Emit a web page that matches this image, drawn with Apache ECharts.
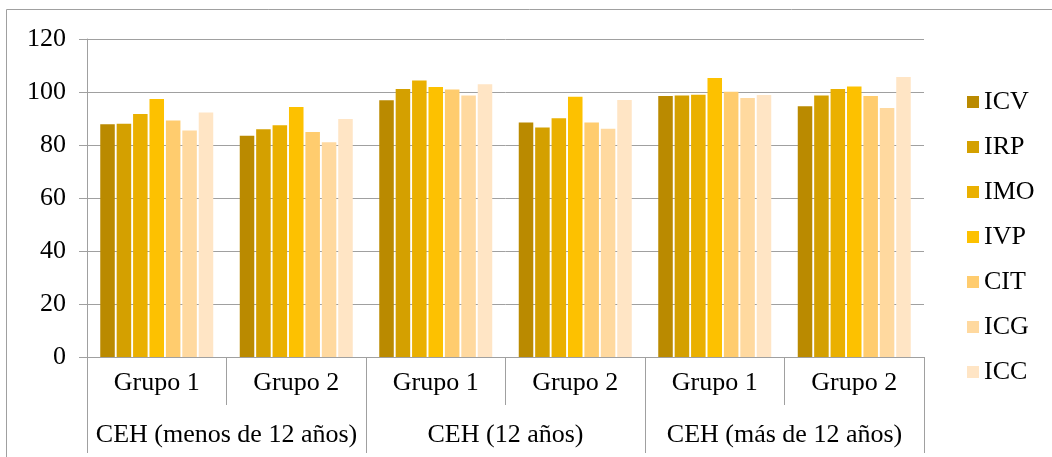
<!DOCTYPE html>
<html>
<head>
<meta charset="utf-8">
<script src="https://cdn.jsdelivr.net/npm/echarts@6/dist/echarts.min.js"></script>
<style>
html,body{margin:0;padding:0;background:#fff;}
#chart{width:1052px;height:457px;}
</style>
</head>
<body>
<div id="chart"></div>
<script>
// Categories
const groupLabels = ['Grupo 1', 'Grupo 2', 'Grupo 1', 'Grupo 2', 'Grupo 1', 'Grupo 2'];
const ageLabels = ['CEH (menos de 12 años)', 'CEH (12 años)', 'CEH (más de 12 años)'];
const yTicks = [0, 20, 40, 60, 80, 100, 120];

// Series values (one value per group column)
const ICV = [87.8, 83.5, 96.9, 88.5, 98.5, 94.6];
const IRP = [88.0, 85.9, 101.1, 86.6, 98.7, 98.7];
const IMO = [91.7, 87.5, 104.3, 90.1, 99.0, 101.1];
const IVP = [97.4, 94.3, 101.9, 98.2, 105.3, 102.1];
const CIT = [89.2, 84.9, 100.9, 88.5, 100.1, 98.5];
const ICG = [85.5, 81.0, 98.7, 86.1, 97.7, 94.0];
const ICC = [92.3, 89.8, 102.9, 97.0, 98.9, 105.7];

const seriesNames = ['ICV', 'IRP', 'IMO', 'IVP', 'CIT', 'ICG', 'ICC'];
const seriesData = [ICV, IRP, IMO, IVP, CIT, ICG, ICC];
const seriesColors = ['#BA8A00', '#D4A000', '#EAB000', '#FDC100', '#FFCC6E', '#FFD99F', '#FFE5C5'];

const FONT = 'Liberation Serif, Times New Roman, serif';
const GREY = '#A0A0A0';

const chart = echarts.init(document.getElementById('chart'));
chart.setOption({
  backgroundColor: '#fff',
  animation: false,
  graphic: [{
    type: 'rect',
    shape: { x: 6.5, y: 9.5, width: 1200, height: 600 },
    style: { fill: 'none', stroke: GREY, lineWidth: 1 },
    silent: true
  }],
  grid: { left: 87, right: 128, top: 39, bottom: 100, containLabel: false },
  legend: {
    orient: 'vertical',
    left: 962,
    top: 84,
    itemWidth: 12,
    itemHeight: 12,
    itemGap: 19,
    icon: 'rect',
    data: seriesNames,
    textStyle: { fontFamily: FONT, fontSize: 26, color: '#000', lineHeight: 26 }
  },
  xAxis: [{
    type: 'category',
    data: groupLabels,
    axisLine: { show: true, lineStyle: { color: GREY, width: 1 } },
    axisTick: { show: true, interval: 0, length: 48, lineStyle: { color: GREY } },
    axisLabel: { interval: 0, margin: 13, fontFamily: FONT, fontSize: 26, color: '#000' },
    splitLine: { show: false }
  }, {
    type: 'category',
    data: ageLabels,
    position: 'bottom',
    offset: 48,
    axisLine: { show: false },
    axisTick: { show: true, interval: 0, length: 48, lineStyle: { color: GREY } },
    axisLabel: { interval: 0, margin: 17, fontFamily: FONT, fontSize: 26, color: '#000' },
    splitLine: { show: false }
  }],
  yAxis: {
    type: 'value',
    min: yTicks[0],
    max: yTicks[yTicks.length - 1],
    interval: 20,
    axisLine: { show: true, lineStyle: { color: GREY, width: 1 } },
    axisTick: { show: true, length: 8, lineStyle: { color: GREY } },
    axisLabel: { margin: 21, fontFamily: FONT, fontSize: 26, color: '#000' },
    splitLine: { show: true, lineStyle: { color: GREY, width: 1 } }
  },
  series: seriesNames.map((name, i) => ({
    name: name,
    type: 'bar',
    xAxisIndex: 0,
    data: seriesData[i],
    barCategoryGap: '19%',
    barGap: '13%',
    itemStyle: { color: seriesColors[i] }
  }))
});
</script>
</body>
</html>
